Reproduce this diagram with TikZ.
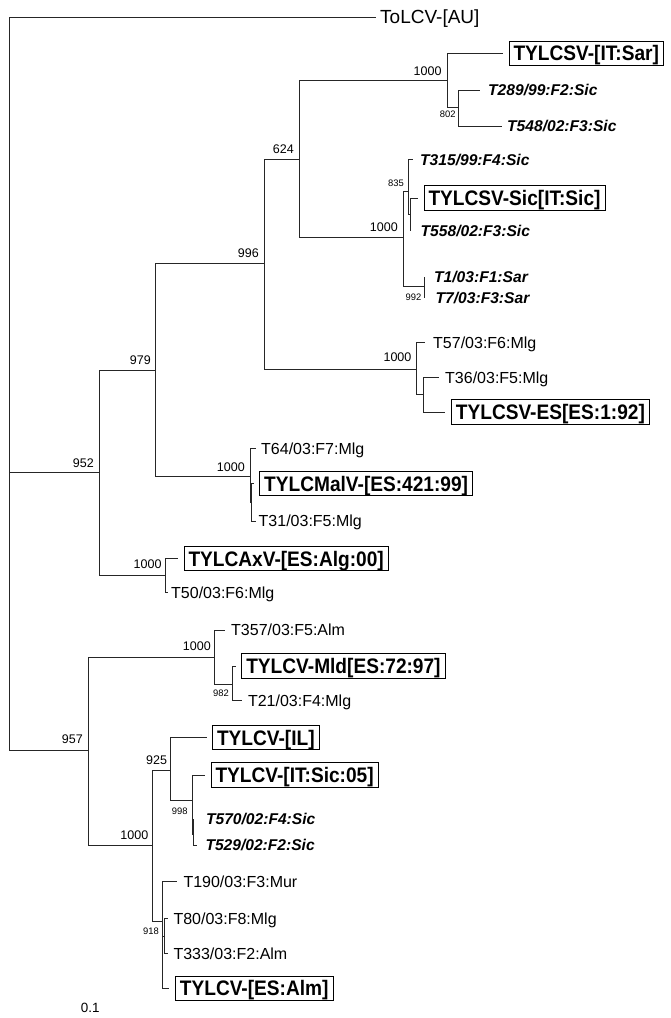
\documentclass[tikz,border=0pt]{standalone}
\usepackage{fontspec}
\setmainfont{Liberation Sans}
\newfontfamily\boxfont[FakeStretch=0.91]{Liberation Sans}

\begin{document}
\begin{tikzpicture}[
    x=1pt, y=-1pt,
    twig/.style={line width=0.9pt, draw=black!85},
    taxon/.style={anchor=west, inner ysep=0pt, inner xsep=4.5pt,
        text height=11.5pt, text depth=0pt, font=\fontsize{16}{19}\selectfont},
    isolate/.style={taxon, text height=11.2pt,
        font=\fontsize{15.6}{18}\selectfont\bfseries\itshape},
    virus/.style={draw, line width=1pt, anchor=west, outer xsep=6pt,
        inner xsep=4.5pt, inner ysep=1pt, text height=18.6pt, text depth=3.6pt,
        font=\boxfont\fontsize{21}{24}\selectfont\bfseries},
    boot/.style={anchor=east, inner sep=0pt, text height=8.9pt, text depth=0pt,
        font=\fontsize{12.5}{14}\selectfont},
    bootsmall/.style={boot, text height=6.7pt, font=\fontsize{9.4}{11}\selectfont}
]
\useasboundingbox (0,0) rectangle (671,1018);

% internal nodes of the tree
\coordinate (root)  at (9,472.7);
\coordinate (n952)  at (99.7,472.7);
\coordinate (n979)  at (155.3,370.7);
\coordinate (n996)  at (264,263.3);
\coordinate (n624)  at (299.5,159.3);
\coordinate (nSar)  at (447.2,80.7);
\coordinate (n802)  at (458.5,107.7);
\coordinate (nSic)  at (403.5,237.7);
\coordinate (n835)  at (408.7,191.7);
\coordinate (nSicB) at (410.5,214);
\coordinate (n992)  at (424.5,286.7);
\coordinate (nMlg)  at (416,369);
\coordinate (nES)   at (423.6,394.3);
\coordinate (nMal)  at (250.3,476.7);
\coordinate (nMalB) at (251.6,502.5);
\coordinate (nAxV)  at (165.6,575.3);
\coordinate (n957)  at (88.6,750);
\coordinate (nMld)  at (214.5,657.3);
\coordinate (n982)  at (232,684);
\coordinate (nIL)   at (152.5,845);
\coordinate (n925)  at (170.9,770.7);
\coordinate (n998)  at (192.7,800.7);
\coordinate (n998B) at (193.9,834);
\coordinate (n918)  at (162.6,921);
\coordinate (n918B) at (164.3,936);

% outgroup
\node[taxon, inner xsep=4.5pt, text height=13.6pt, font=\fontsize{19}{22}\selectfont]
    (tolcv) at (375.5,17) {ToLCV-[AU]};

% reference viruses
\node[virus] (sar)   at (503,53.3)   {TYLCSV-[IT:Sar]};
\node[virus] (sicit) at (418,198)    {TYLCSV-Sic[IT:Sic]};
\node[virus] (es192) at (445.4,412)  {TYLCSV-ES[ES:1:92]};
\node[virus] (malv)  at (253.7,483.5) {TYLCMalV-[ES:421:99]};
\node[virus] (axv)   at (178,558.7)  {TYLCAxV-[ES:Alg:00]};
\node[virus] (mld)   at (235.8,666)  {TYLCV-Mld[ES:72:97]};
\node[virus] (il)    at (206.5,737.7) {TYLCV-[IL]};
\node[virus] (sic05) at (205,775)    {TYLCV-[IT:Sic:05]};
\node[virus] (esalm) at (169.4,988.3) {TYLCV-[ES:Alm]};

% italian isolates
\node[isolate, inner xsep=8pt]   (t289) at (480,90)      {T289/99:F2:Sic};
\node[isolate, inner xsep=5pt]   (t548) at (502,126)     {T548/02:F3:Sic};
\node[isolate, inner xsep=7pt]   (t315) at (413,159.5)   {T315/99:F4:Sic};
\node[isolate, inner xsep=10pt]  (t558) at (410.5,230.7) {T558/02:F3:Sic};
\node[isolate, inner xsep=9.5pt] (t1)   at (424.5,276.7) {T1/03:F1:Sar};
\node[isolate, inner xsep=11pt]  (t7)   at (424.5,298.3) {T7/03:F3:Sar};
\node[isolate, inner xsep=12pt]  (t570) at (193.9,819.3) {T570/02:F4:Sic};
\node[isolate, inner xsep=8pt]   (t529) at (197.3,845)   {T529/02:F2:Sic};

% spanish isolates
\node[taxon, inner xsep=8pt]   (t57)  at (425,342.3)   {T57/03:F6:Mlg};
\node[taxon, inner xsep=6.4pt] (t36)  at (438.6,377.7) {T36/03:F5:Mlg};
\node[taxon, inner xsep=5pt]   (t64)  at (256,448.3)   {T64/03:F7:Mlg};
\node[taxon, inner xsep=2.5pt] (t31)  at (256,521)     {T31/03:F5:Mlg};
\node[taxon, inner xsep=3pt]   (t50)  at (168,592.3)   {T50/03:F6:Mlg};
\node[taxon, inner xsep=6.4pt] (t357) at (224.6,630)   {T357/03:F5:Alm};
\node[taxon, inner xsep=6pt]   (t21)  at (241.8,700.7) {T21/03:F4:Mlg};
\node[taxon, inner xsep=6.6pt] (t190) at (176.7,881.5) {T190/03:F3:Mur};
\node[taxon, inner xsep=5pt]   (t80)  at (168.3,918.3) {T80/03:F8:Mlg};
\node[taxon, inner xsep=5pt]   (t333) at (168.3,953.3) {T333/03:F2:Alm};

% branches
\draw[twig] (root) |- (tolcv.west) (root) |- (n952) (root) |- (n957);
\draw[twig] (n952) |- (n979) (n952) |- (nAxV);
\draw[twig] (n979) |- (n996) (n979) |- (nMal);
\draw[twig] (n996) |- (n624) (n996) |- (nMlg);
\draw[twig] (n624) |- (nSar) (n624) |- (nSic);
\draw[twig] (nSar) |- (sar.west) (nSar) |- (n802);
\draw[twig] (n802) |- (t289.west) (n802) |- (t548.west);
\draw[twig] (nSic) |- (n835) (nSic) |- (n992);
\draw[twig] (n835) |- (t315.west) (n835) |- (nSicB);
\draw[twig] (nSicB) |- (sicit.west) (nSicB) |- (t558.west);
\draw[twig] (n992) |- (t1.west) (n992) |- (t7.west);
\draw[twig] (nMlg) |- (t57.west) (nMlg) |- (nES);
\draw[twig] (nES) |- (t36.west) (nES) |- (es192.west);
\draw[twig] (nMal) |- (t64.west) (nMal) |- (nMalB);
\draw[twig] (nMalB) |- (malv.west) (nMalB) |- (t31.west);
\draw[twig] (nAxV) |- (axv.west) (nAxV) |- (t50.west);
\draw[twig] (n957) |- (nMld) (n957) |- (nIL);
\draw[twig] (nMld) |- (t357.west) (nMld) |- (n982);
\draw[twig] (n982) |- (mld.west) (n982) |- (t21.west);
\draw[twig] (nIL) |- (n925) (nIL) |- (n918);
\draw[twig] (n925) |- (il.west) (n925) |- (n998);
\draw[twig] (n998) |- (sic05.west) (n998) |- (n998B);
\draw[twig] (n998B) |- (t570.west) (n998B) |- (t529.west);
\draw[twig] (n918) |- (t190.west) (n918) |- (n918B) (n918) |- (esalm.west);
\draw[twig] (n918B) |- (t80.west) (n918B) |- (t333.west);

% bootstrap values
\node[boot] (b952)  at (94,462.7)    {952};
\node[boot] (b979)  at (151,360)     {979};
\node[boot] (b996)  at (259,253)     {996};
\node[boot] (b624)  at (294,149.3)   {624};
\node[boot] (bSar)  at (441.7,71.3)  {1000};
\node[bootsmall] (b802) at (455.7,114.3) {802};
\node[boot] (bSic)  at (398,226.7)   {1000};
\node[bootsmall] (b835) at (404,182.7) {835};
\node[bootsmall] (b992) at (421.5,296.7) {992};
\node[boot] (bMlg)  at (411.6,357.3) {1000};
\node[boot] (bMal)  at (245,466.7)   {1000};
\node[boot] (bAxV)  at (161.7,564.3) {1000};
\node[boot] (b957)  at (83,739)      {957};
\node[boot] (bMld)  at (211,646)     {1000};
\node[bootsmall] (b982) at (229,693.3) {982};
\node[boot] (b925)  at (167.3,760)   {925};
\node[bootsmall] (b998) at (187.7,810.7) {998};
\node[boot] (bIL)   at (148.5,835.5) {1000};
\node[bootsmall] (b918) at (159,930.7) {918};

% scale
\node[boot, anchor=west, text height=9.6pt, font=\fontsize{13.4}{15}\selectfont]
    (scale) at (80.7,1008) {0.1};

\end{tikzpicture}
\end{document}
